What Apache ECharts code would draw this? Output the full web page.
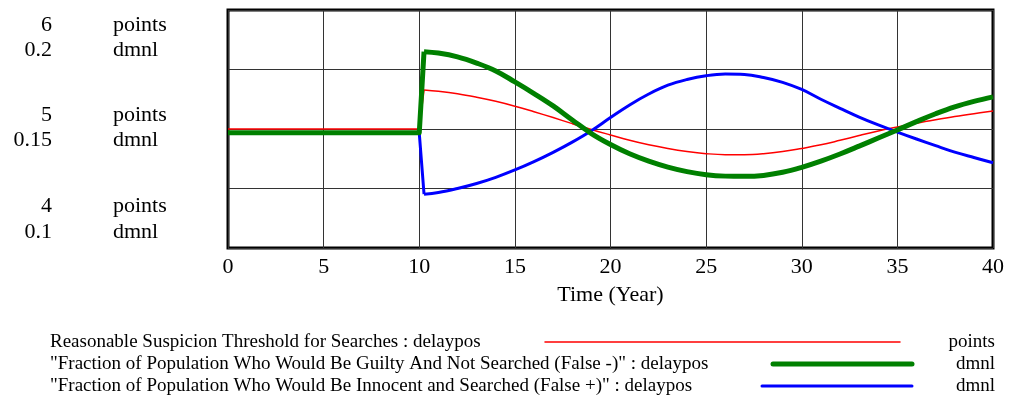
<!DOCTYPE html>
<html>
<head>
<meta charset="utf-8">
<script src="https://cdn.jsdelivr.net/npm/echarts@6/dist/echarts.min.js"></script>
<style>
  html, body { margin: 0; padding: 0; background: #fff; }
  #chart { width: 1010px; height: 400px; }
</style>
</head>
<body>
<div id="chart"></div>
<script>
// time (year) at which each value was read
const times = [0, 10, 10.25, 11, 12, 13, 14, 15, 16, 17, 18, 19, 20, 21, 22, 23, 24, 25,
  26, 27, 28, 29, 30, 31, 32, 33, 34, 35, 36, 37, 38, 39, 40]

// Reasonable Suspicion Threshold for Searches (points)
const threshold = [5.0, 5.0, 5.328, 5.317, 5.296, 5.267, 5.233, 5.192, 5.145, 5.096, 5.045,
  4.996, 4.95, 4.905, 4.867, 4.836, 4.811, 4.793, 4.784, 4.784, 4.792, 4.81, 4.837, 4.867,
  4.905, 4.945, 4.983, 5.017, 5.049, 5.078, 5.105, 5.129, 5.151]

// False - (dmnl)
const falseNeg = [0.1484, 0.1484, 0.1825, 0.1819, 0.1803, 0.1777, 0.1744, 0.1698, 0.1649,
  0.1597, 0.1538, 0.1481, 0.1435, 0.1396, 0.1365, 0.134, 0.1321, 0.1308, 0.1302, 0.1301,
  0.1305, 0.1318, 0.1339, 0.1365, 0.1395, 0.1428, 0.1462, 0.1496, 0.1531, 0.1564, 0.1593,
  0.1616, 0.1635]

// False + (dmnl)
const falsePos = [0.1484, 0.1484, 0.1226, 0.1233, 0.125, 0.1271, 0.1297, 0.1328, 0.1363,
  0.1402, 0.1445, 0.1493, 0.1548, 0.1601, 0.1647, 0.1684, 0.1708, 0.1724, 0.1731, 0.1729,
  0.1716, 0.1696, 0.1666, 0.1625, 0.1587, 0.155, 0.1517, 0.1487, 0.1458, 0.143, 0.1403,
  0.138, 0.1358]

const pointsTicks = ['6', '5', '4']
const dmnlTicks = ['0.2', '0.15', '0.1']

const seriesNames = [
  'Reasonable Suspicion Threshold for Searches : delaypos',
  '"Fraction of Population Who Would Be Guilty And Not Searched (False -)" : delaypos',
  '"Fraction of Population Who Would Be Innocent and Searched (False +)" : delaypos',
]
const seriesUnits = ['points', 'dmnl', 'dmnl']
const seriesColors = ['#ff0000', '#008000', '#0000ff']
const seriesWidths = [1.5, 5, 3]

const FONT = '"Liberation Serif", "Times New Roman", serif'
const STEP_END = 3 // the jump at year 10 is drawn straight, the rest smoothed
const pairs = (arr) => times.map((t, i) => [t, arr[i]])

const chart = echarts.init(document.getElementById('chart'))

// left-hand scale labels, two per tick
const tickY = [[25, 50], [115, 140], [206, 232]]
const scaleLabels = []
pointsTicks.forEach((p, i) => {
  scaleLabels.push({ type: 'text', style: { text: p, x: 52, y: tickY[i][0], textAlign: 'right', textVerticalAlign: 'middle', font: '22px ' + FONT, fill: '#000' } })
  scaleLabels.push({ type: 'text', style: { text: 'points', x: 113, y: tickY[i][0], textAlign: 'left', textVerticalAlign: 'middle', font: '22px ' + FONT, fill: '#000' } })
  scaleLabels.push({ type: 'text', style: { text: dmnlTicks[i], x: 52, y: tickY[i][1], textAlign: 'right', textVerticalAlign: 'middle', font: '22px ' + FONT, fill: '#000' } })
  scaleLabels.push({ type: 'text', style: { text: 'dmnl', x: 113, y: tickY[i][1], textAlign: 'left', textVerticalAlign: 'middle', font: '22px ' + FONT, fill: '#000' } })
})

// legend rows: name, sample line, unit
const legendLines = [[545, 900], [773, 912], [762, 912]]
const legendItems = []
seriesNames.forEach((name, i) => {
  const y = 342 + i * 22
  legendItems.push({ type: 'text', style: { text: name, x: 50, y, textVerticalAlign: 'middle', font: '19px ' + FONT, fill: '#000' } })
  legendItems.push({ type: 'line', shape: { x1: legendLines[i][0], y1: y, x2: legendLines[i][1], y2: y }, style: { stroke: seriesColors[i], lineWidth: seriesWidths[i], lineCap: 'round' } })
  legendItems.push({ type: 'text', style: { text: seriesUnits[i], x: 995, y, textAlign: 'right', textVerticalAlign: 'middle', font: '19px ' + FONT, fill: '#000' } })
})

// each curve = a straight part up to the jump + a smoothed part after it
const lineSeries = (i, data, yIdx, z) => {
  const all = pairs(data)
  const base = {
    type: 'line',
    yAxisIndex: yIdx,
    showSymbol: false,
    z,
    lineStyle: { color: seriesColors[i], width: seriesWidths[i], join: 'round' },
    itemStyle: { color: seriesColors[i] },
  }
  return [
    { ...base, name: seriesNames[i], data: all.slice(0, STEP_END), smooth: false },
    { ...base, name: seriesNames[i], data: all.slice(STEP_END - 1), smooth: 0.4 },
  ]
}

chart.setOption({
  animation: false,
  grid: {
    left: 228, right: 17, top: 10, bottom: 152,
    show: true, borderWidth: 3, borderColor: '#000', backgroundColor: 'transparent',
  },
  xAxis: {
    type: 'value',
    min: 0, max: 40, interval: 5,
    name: 'Time (Year)',
    nameLocation: 'middle',
    nameGap: 36,
    nameTextStyle: { fontFamily: FONT, fontSize: 22, color: '#000' },
    axisLine: { show: false },
    axisTick: { show: false },
    axisLabel: { fontFamily: FONT, fontSize: 22, color: '#000', margin: 8 },
    splitLine: { show: true, lineStyle: { color: '#333', width: 1 } },
  },
  yAxis: [
    {
      type: 'value', min: 4, max: 6, interval: 0.5,
      axisLine: { show: false }, axisTick: { show: false }, axisLabel: { show: false },
      splitLine: { show: true, lineStyle: { color: '#333', width: 1 } },
    },
    {
      type: 'value', min: 0.1, max: 0.2, interval: 0.025,
      axisLine: { show: false }, axisTick: { show: false }, axisLabel: { show: false },
      splitLine: { show: false },
    },
  ],
  graphic: [...scaleLabels, ...legendItems],
  series: [
    ...lineSeries(0, threshold, 0, 2),
    ...lineSeries(2, falsePos, 1, 3),
    ...lineSeries(1, falseNeg, 1, 4),
  ],
})
</script>
</body>
</html>
